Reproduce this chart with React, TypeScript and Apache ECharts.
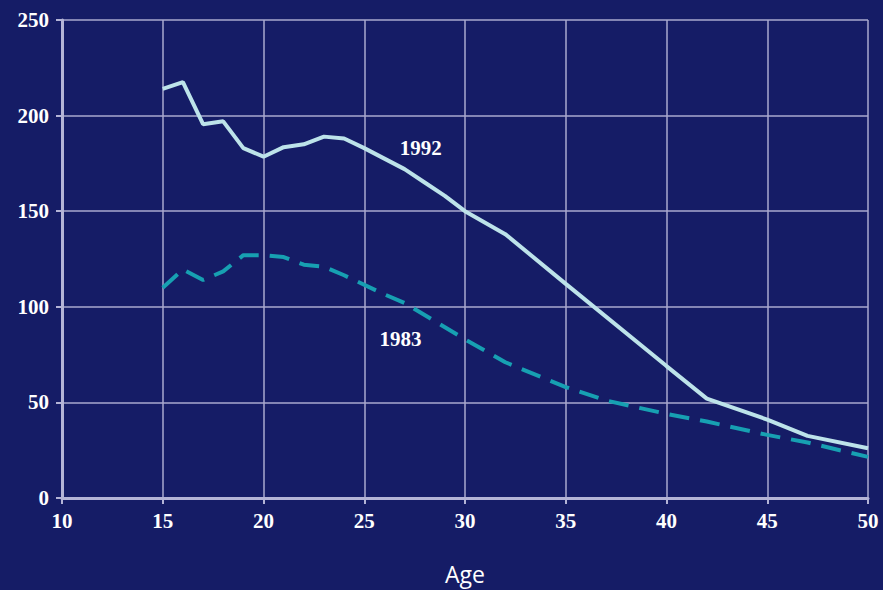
import React, { useEffect, useRef } from "react";
import * as echarts from "echarts";

const ages1992 = [15, 16, 17, 18, 19, 20, 21, 22, 23, 24, 25, 26, 27, 28, 29, 30, 32, 35, 40, 42, 45, 47, 50];
const values1992 = [214, 217.5, 195.5, 197, 183, 178.5, 183.5, 185, 189, 188, 183, 177.5, 172, 165, 158, 150, 138, 112, 69, 52, 41, 32.5, 26];

const ages1983 = [15, 16, 17, 18, 19, 20, 21, 22, 23, 24, 26, 27, 30, 32, 35, 37, 40, 42, 45, 47, 50];
const values1983 = [110, 119.5, 114, 118.5, 127, 127, 126, 122, 121, 116.5, 106.5, 102, 83, 71, 58, 51, 44, 40, 33, 29, 21.5];

const xTicks = { min: 10, max: 50, interval: 5 };
const yTicks = { min: 0, max: 250, interval: 50 };

const labelPoints = [
  { name: "1992", coord: [27.8, 182.8] },
  { name: "1983", coord: [26.8, 83.3] },
];

export default function App() {
  const ref = useRef<HTMLDivElement>(null);
  useEffect(() => {
    if (!ref.current) return;
    const chart = echarts.init(ref.current, undefined, { renderer: "svg" });
    const axisColor = "#b4b4d6";
    const gridColor = "#a8a8cf";
    const labelFont = {
      color: "#ffffff",
      fontFamily: "Liberation Serif",
      fontWeight: "bold" as const,
      fontSize: 21,
    };
    const seriesLabel = (name: string) => ({
      show: true,
      position: "inside",
      formatter: name,
      color: "#ffffff",
      fontFamily: "Liberation Serif",
      fontWeight: "bold",
      fontSize: 21,
    });
    chart.setOption({
      animation: false,
      backgroundColor: "#151c66",
      grid: { left: 62, right: 15, top: 20, bottom: 88, containLabel: false },
      xAxis: {
        type: "value",
        min: xTicks.min,
        max: xTicks.max,
        interval: xTicks.interval,
        name: "Age",
        nameLocation: "middle",
        nameGap: 64,
        nameTextStyle: { color: "#ffffff", fontFamily: "Open Sans", fontSize: 23 },
        axisLine: { show: true, onZero: false, lineStyle: { color: axisColor, width: 3 } },
        axisTick: { show: true, length: 6, lineStyle: { color: axisColor, width: 2 } },
        axisLabel: { ...labelFont, margin: 12 },
        splitLine: { show: true, lineStyle: { color: gridColor, width: 1.5 } },
      },
      yAxis: {
        type: "value",
        min: yTicks.min,
        max: yTicks.max,
        interval: yTicks.interval,
        axisLine: { show: true, lineStyle: { color: axisColor, width: 3 } },
        axisTick: { show: true, length: 6, lineStyle: { color: axisColor, width: 2 } },
        axisLabel: { ...labelFont, margin: 13 },
        splitLine: { show: true, lineStyle: { color: gridColor, width: 1.5 } },
      },
      series: [
        {
          type: "line",
          data: ages1992.map((a, i) => [a, values1992[i]]),
          symbol: "none",
          lineStyle: { color: "#bde3ea", width: 4 },
          markPoint: {
            symbol: "circle",
            symbolSize: 0,
            data: [
              {
                name: labelPoints[0].name,
                coord: labelPoints[0].coord,
                label: seriesLabel(labelPoints[0].name),
              },
            ],
          },
        },
        {
          type: "line",
          data: ages1983.map((a, i) => [a, values1983[i]]),
          symbol: "none",
          lineStyle: { color: "#17a0b2", width: 4, type: [20, 11] },
          markPoint: {
            symbol: "circle",
            symbolSize: 0,
            data: [
              {
                name: labelPoints[1].name,
                coord: labelPoints[1].coord,
                label: seriesLabel(labelPoints[1].name),
              },
            ],
          },
        },
      ],
    });
    return () => chart.dispose();
  }, []);
  return (
    <div
      ref={ref}
      style={{ position: "fixed", left: 0, top: 0, width: 883, height: 590 }}
    />
  );
}
